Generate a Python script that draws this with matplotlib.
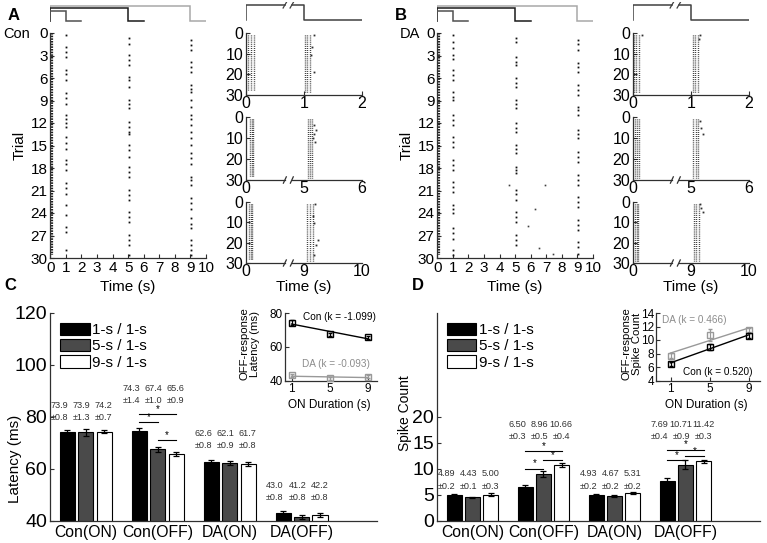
import numpy as np
import matplotlib
matplotlib.use('Agg')
import matplotlib.pyplot as plt
from matplotlib.patches import Patch

plt.rcParams['font.family'] = ['Liberation Sans', 'DejaVu Sans']
plt.rcParams['axes.linewidth'] = 0.9

# ---------------- data ----------------
on_durations = [1, 5, 9]
off_duration = 1
on_latency_s = 0.08
on_trial_span = [0.0, 29.6]

# spike clusters (trial positions) of the OFF responses, main rasters
con_off_1s = [0.3, 1.8, 2.5, 3.2, 4.9, 5.4, 6.3, 8.0, 8.7, 9.4, 10.9, 11.4, 12.0, 12.5, 13.8,
              14.7, 15.4, 16.9, 17.4, 18.3, 20.0, 20.7, 21.4, 22.9, 24.3, 25.8, 26.5, 28.9]
con_off_5s = [0.7, 1.4, 2.9, 3.6, 4.3, 5.8, 6.3, 7.2, 8.9, 9.4, 10.0, 11.8, 12.5, 13.2, 13.4,
              14.9, 15.6, 16.5, 17.8, 18.5, 19.2, 20.9, 21.6, 22.3, 23.8, 24.5, 25.2, 26.9,
              27.6, 28.3, 29.6]
con_off_9s = [0.9, 1.6, 2.3, 3.8, 4.5, 5.2, 6.9, 7.4, 7.8, 8.9, 9.8, 10.9, 11.4, 12.3, 13.2,
              14.0, 14.9, 16.0, 16.7, 17.4, 19.2, 19.6, 20.3, 22.0, 22.7, 23.4, 24.7, 25.4,
              26.0, 27.6, 28.3, 28.9, 29.6]
da_off_1s = [0.3, 1.2, 2.0, 2.9, 3.4, 4.9, 5.6, 6.3, 7.8, 8.5, 8.9, 10.9, 11.6, 12.3, 13.8,
             14.5, 15.2, 16.9, 17.6, 18.3, 19.8, 20.5, 21.2, 22.9, 23.4, 24.0, 26.0, 26.7,
             27.4, 28.9, 29.6]
da_off_5s = [0.7, 1.2, 3.2, 3.8, 4.3, 6.0, 6.7, 7.2, 8.9, 9.4, 10.0, 12.0, 12.7, 13.2, 14.9,
             15.4, 16.0, 17.8, 18.3, 18.7, 20.9, 21.4, 22.3, 23.8, 24.5, 25.2, 26.9, 27.6, 28.3]
da_off_9s = [0.9, 1.4, 2.3, 4.0, 4.5, 5.2, 6.9, 7.6, 8.3, 9.8, 10.3, 10.9, 12.9, 13.4, 14.0,
             15.8, 16.5, 17.2, 18.9, 19.6, 20.3, 21.8, 22.5, 23.2, 24.9, 25.6, 26.3, 27.8,
             28.5, 29.4]
da_stray_t = [4.6, 6.9, 6.3, 5.8, 6.55, 7.4]
da_stray_trial = [20.3, 20.3, 23.4, 25.7, 28.7, 29.4]

# zoomed rasters: ON / OFF bands (x_lo, x_hi, trial_lo, trial_hi) in 0..2 display time
con_zoom_on = [(0.04, 0.13, 1, 28), (0.07, 0.12, 1, 28), (0.06, 0.11, 1, 28)]
con_zoom_off = [(1.02, 1.10, 1, 29), (1.07, 1.14, 1, 29), (1.05, 1.16, 1, 29)]
con_zoom_extra = [[(1.17, 1.0), (1.13, 6.6), (1.12, 10.6), (1.17, 18.7)],
                  [(1.17, 4.0), (1.20, 6.0), (1.18, 8.0), (1.16, 10.0), (1.19, 12.0)],
                  [(1.19, 1.0), (1.16, 7.0), (1.17, 10.3), (1.24, 18.5), (1.21, 21.0),
                   (1.17, 26.0)]]
da_zoom_on = [(0.02, 0.10, 1, 29), (0.04, 0.10, 1, 29), (0.04, 0.09, 1, 29)]
da_zoom_off = [(1.03, 1.12, 1, 29), (1.04, 1.12, 1, 29), (1.05, 1.13, 1, 29)]
da_zoom_extra = [[(0.16, 1.0), (1.15, 1.0), (1.13, 3.0)],
                 [(1.15, 2.0), (1.17, 5.0), (1.2, 8.0)],
                 [(1.15, 1.0), (1.18, 3.0), (1.2, 5.0)]]
zoom_ticklabels = [['0', '1', '2'], ['0', '5', '6'], ['0', '9', '10']]

groups = ['Con(ON)', 'Con(OFF)', 'DA(ON)', 'DA(OFF)']
series = ['1-s / 1-s', '5-s / 1-s', '9-s / 1-s']
lat_mean = [[73.9, 73.9, 74.2], [74.3, 67.4, 65.6], [62.6, 62.1, 61.7], [43.0, 41.2, 42.2]]
lat_err = [[0.8, 1.3, 0.7], [1.4, 1.0, 0.9], [0.8, 0.9, 0.8], [0.8, 0.8, 0.8]]
cnt_mean = [[4.89, 4.43, 5.00], [6.50, 8.96, 10.66], [4.93, 4.67, 5.31], [7.69, 10.71, 11.42]]
cnt_err = [[0.2, 0.1, 0.3], [0.3, 0.5, 0.4], [0.2, 0.2, 0.2], [0.4, 0.9, 0.3]]
lat_err_txt = ['0.8', '1.3', '0.7', '1.4', '1.0', '0.9', '0.8', '0.9', '0.8', '0.8', '0.8', '0.8']
cnt_err_txt = ['0.2', '0.1', '0.3', '0.3', '0.5', '0.4', '0.2', '0.2', '0.2', '0.4', '0.9', '0.3']
lat_sig = [(1, 0, 1, 78.0), (1, 0, 2, 80.9), (1, 1, 2, 71.0)]
cnt_sig = [(1, 0, 1, 10.0), (1, 1, 2, 11.7), (1, 0, 2, 13.3),
           (3, 0, 1, 11.7), (3, 1, 2, 12.4), (3, 0, 2, 13.65)]
lat_label_y = [79.8, 86.3, 69.0, 49.0]
cnt_label_y = [6.6, 16.2, 6.6, 16.2]
k_lat = {'Con': '-1.099', 'DA': '-0.093'}
k_cnt = {'Con': '0.520', 'DA': '0.466'}

# ---------------- layout helpers ----------------
W, H = 767, 543
fig = plt.figure(figsize=(W / 100, H / 100), dpi=100)


def rect(x0, y0, x1, y1):
    return [x0 / W, 1 - y1 / H, (x1 - x0) / W, (y1 - y0) / H]


def ftext(x, y, s, **kw):
    fig.text(x / W, 1 - y / H, s, **kw)


AX = '#303030'
FS = 11


def style(ax, fs=FS):
    for s in ['top', 'right']:
        ax.spines[s].set_visible(False)
    for s in ['left', 'bottom']:
        ax.spines[s].set_color(AX)
    ax.tick_params(direction='in', length=3, width=0.8, labelsize=fs, pad=2, colors='black')
    ax.tick_params(axis='both', color=AX)


def trace_axes(x0, x1):
    ax = fig.add_axes(rect(x0, 2, x1, 24))
    ax.set_xlim(0, 10)
    ax.set_ylim(24, 2)
    ax.axis('off')
    levels = {9: 5.5, 5: 8.0, 1: 11.0}
    cols = {9: '#a8a8a8', 5: '#1a1a1a', 1: '#505050'}
    for d in sorted(on_durations, reverse=True):
        hi = levels[d]
        ax.plot([0, 0, d, d, d + off_duration], [21, hi, hi, 21, 21], color=cols[d], lw=1.1,
                solid_joinstyle='miter')
    return ax


def zoom_trace_axes(x0, x1):
    ax = fig.add_axes(rect(x0, 2, x1, 24))
    ax.set_xlim(0, 2)
    ax.set_ylim(24, 2)
    ax.axis('off')
    c = '#404040'
    ax.plot([0, 0, 0.67], [20, 5, 5], color=c, lw=1.1)
    ax.plot([0.79, 1, 1, 2], [5, 5, 20, 20], color=c, lw=1.1)
    for xb in (0.67, 0.79):
        ax.plot([xb - 0.03, xb + 0.03], [8, 2], color=c, lw=0.9)
    return ax


def main_raster(x0, x1, off_lists, stray=None):
    ax = fig.add_axes(rect(x0, 33, x1, 258))
    ax.set_xlim(0, 10)
    ax.set_ylim(30, 0)
    ax.set_xticks(range(0, 11))
    ax.set_yticks(range(0, 31, 3))
    style(ax, 11)
    ax.plot([on_latency_s, on_latency_s], on_trial_span, color='#202020', lw=1.6,
            ls=(0, (0.7, 0.5)))
    for d, tr in zip(on_durations, off_lists):
        ax.plot([d + 0.04] * len(tr), tr, ls='none', marker='s', ms=1.3, mew=0, color='#101010')
    if stray is not None:
        ax.plot(stray[0], stray[1], ls='none', marker='s', ms=1.2, mew=0, color='#404040')
    return ax


def band(ax, b):
    xlo, xhi, t0, t1 = b
    for xx in np.linspace(xlo, xhi, 3):
        ax.plot([xx, xx], [t0, t1], color='#202020', lw=1.0, ls=(0, (0.6, 0.9)))


def zoom_raster(x0, x1, y0, y1, labels, on_b, off_b, extra, broken):
    ax = fig.add_axes(rect(x0, y0, x1, y1))
    ax.set_xlim(0, 2)
    ax.set_ylim(30, 0)
    ax.set_xticks([0, 1, 2])
    ax.set_xticklabels(labels)
    ax.set_yticks([0, 10, 20, 30])
    style(ax, 11.5)
    ax.tick_params(axis='x', pad=1)
    band(ax, on_b)
    band(ax, off_b)
    ex = np.array(extra)
    ax.plot(ex[:, 0], ex[:, 1], ls='none', marker='s', ms=1.3, mew=0, color='#303030')
    if broken:
        ax.spines['bottom'].set_visible(False)
        ax.tick_params(axis='x', length=0)
        kw = dict(color=AX, lw=0.9, clip_on=False)
        ax.plot([0, 0.67], [30, 30], **kw)
        ax.plot([0.79, 2], [30, 30], **kw)
        for xb in (0.67, 0.79):
            ax.plot([xb - 0.025, xb + 0.025], [31.5, 28.5], **kw)
    return ax


zoom_rows = [(33, 95), (117, 180), (202, 263)]

for dx, lab, cond, offs, on_b, off_b, ext, stray in [
        (0, 'A', 'Con', [con_off_1s, con_off_5s, con_off_9s], con_zoom_on, con_zoom_off,
         con_zoom_extra, None),
        (387, 'B', 'DA', [da_off_1s, da_off_5s, da_off_9s], da_zoom_on, da_zoom_off,
         da_zoom_extra, (da_stray_t, da_stray_trial))]:
    trace_axes(50.3 + dx, 206 + dx)
    zoom_trace_axes(246 + dx, 362 + dx)
    main_raster(50.3 + dx, 206 + dx, offs, stray)
    for i, (ya, yb) in enumerate(zoom_rows):
        zoom_raster(246 + dx, 362 + dx, ya, yb, zoom_ticklabels[i], on_b[i], off_b[i], ext[i],
                    broken=(i > 0))
    ftext(8 + dx, 15, lab, fontsize=12, fontweight='bold', va='center')
    ftext(3 + dx + (10 if dx else 0), 34, cond, fontsize=10.5, va='center')
    ftext(20 + dx, 145, 'Trial', fontsize=FS, rotation=90, va='center', ha='center')
    ftext(128 + dx, 287, 'Time (s)', fontsize=FS, ha='center', va='center')
    ftext(304 + dx, 287, 'Time (s)', fontsize=FS, ha='center', va='center')

# ---------------- bar panels ----------------
bar_colors = ['black', '#4a4a4a', 'white']
offsets = np.array([-0.257, 0.0, 0.257])
txt_off = np.array([-0.37, -0.06, 0.25])
bw = 0.21
gx = np.arange(1, len(groups) + 1)


def bar_panel(x0, x1, means, errs, errtxt, fmt, ylim, yticks, label_y, sig, step):
    ax = fig.add_axes(rect(x0, 312.5, x1, 520.5))
    ax.set_xlim(0.5, 5.05)
    ax.set_ylim(*ylim)
    ax.set_yticks(yticks)
    style(ax, 14)
    ax.set_xticks(gx)
    ax.set_xticklabels(groups, fontsize=11.3)
    ax.tick_params(axis='x', length=0, pad=3)
    m = np.array(means)
    e = np.array(errs)
    for j in range(3):
        ax.bar(gx + offsets[j], m[:, j], width=bw, color=bar_colors[j], edgecolor='black',
               lw=0.8, yerr=e[:, j], capsize=2.5,
               error_kw=dict(lw=0.9, capthick=0.9, ecolor='black'), zorder=2)
    for g in range(len(groups)):
        for j in range(3):
            xt = gx[g] + txt_off[j]
            ax.text(xt, label_y[g] + step, fmt.format(m[g, j]), fontsize=6.6, color='#333333',
                    ha='center', va='center')
            ax.text(xt, label_y[g], '\u00b1' + errtxt[g * 3 + j], fontsize=6.6,
                    color='#333333', ha='center', va='center')
    for g, a, b, y in sig:
        xa, xb = gx[g] + offsets[a], gx[g] + offsets[b]
        ax.plot([xa, xb], [y, y], color='black', lw=0.8)
        ax.text((xa + xb) / 2, y, '*', fontsize=7, ha='center', va='bottom')
    handles = [Patch(facecolor=c, edgecolor='black', lw=0.8) for c in bar_colors]
    ax.legend(handles, series, loc='upper left', bbox_to_anchor=(0.03, 0.95), frameon=False,
              fontsize=FS, handlelength=1.95, handleheight=0.85, handletextpad=0.15,
              labelspacing=0.12, borderaxespad=0, borderpad=0)
    return ax


bar_panel(50, 377, lat_mean, lat_err, lat_err_txt, '{:.1f}', (40, 120), range(40, 121, 20),
          lat_label_y, lat_sig, 4.6)
bar_panel(437, 760, cnt_mean, cnt_err, cnt_err_txt, '{:.2f}', (0, 40), range(0, 21, 5),
          cnt_label_y, cnt_sig, 2.35)

ftext(4, 286, 'C', fontsize=12, fontweight='bold', va='center')
ftext(412, 286, 'D', fontsize=12, fontweight='bold', va='center')
ftext(15, 459, 'Latency (ms)', fontsize=FS, rotation=90, ha='center', va='center')
ftext(405, 413, 'Spike Count', fontsize=10, rotation=90, ha='center', va='center')

# ---------------- insets ----------------
FI = 8.5


def inset(x0, x1, means, errs, ylim, yticks, xlim, kdict, con_xy, da_xy, ylab, ylab_x):
    ax = fig.add_axes(rect(x0, 313, x1, 380.5))
    ax.set_xlim(*xlim)
    ax.set_ylim(*ylim)
    ax.set_xticks(on_durations)
    ax.set_yticks(yticks)
    style(ax, FI)
    ax.tick_params(pad=1.5)
    m = np.array(means)
    e = np.array(errs)
    for gi, col in [(3, '#999999'), (1, 'black')]:
        y = m[gi]
        ax.errorbar(on_durations, y, yerr=e[gi], fmt='s', mfc='none', mec=col, ms=5, mew=1,
                    ecolor=col, elinewidth=0.9, capsize=1.5, clip_on=False, zorder=3)
        p = np.polyfit(on_durations, y, 1)
        xs = np.array([on_durations[0], on_durations[-1]])
        ax.plot(xs, np.polyval(p, xs), color=col, lw=1.0, clip_on=False)
    ax.text(con_xy[0], con_xy[1], 'Con (k = %s)' % kdict['Con'], fontsize=7.2, color='black',
            transform=ax.transAxes, ha='left', va='center')
    ax.text(da_xy[0], da_xy[1], 'DA (k = %s)' % kdict['DA'], fontsize=7.2, color='#8c8c8c',
            transform=ax.transAxes, ha='left', va='center')
    ftext(ylab_x, 344, ylab, fontsize=8.2, rotation=90, ha='center', va='center',
          multialignment='center', linespacing=1.0)
    ftext((x0 + x1) / 2 - 2, 405, 'ON Duration (s)', fontsize=FI, ha='center', va='center')


inset(285, 377, lat_mean, lat_err, (40, 80), [40, 60, 80], (0.3, 10.0), k_lat,
      (0.2, 0.94), (0.18, 0.25), 'OFF-response\nLatency (ms)', 250)
inset(656, 760, cnt_mean, cnt_err, (4, 14), range(4, 15, 2), (-0.5, 10.1), k_cnt,
      (0.26, 0.12), (0.06, 0.9), 'OFF-response\nSpike Count', 632)

fig.savefig('out.png', dpi=100)
